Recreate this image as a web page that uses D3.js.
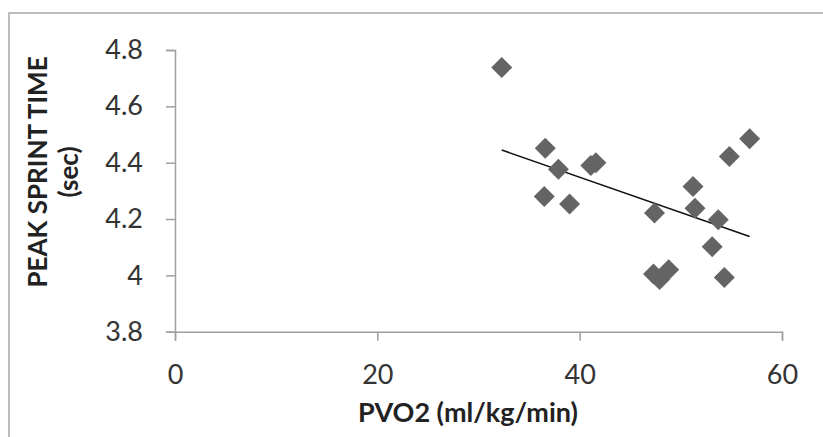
<!DOCTYPE html>
<html>
<head>
<meta charset="utf-8">
<script src="https://cdn.jsdelivr.net/npm/d3@7"></script>
<style>
  body { margin: 0; background: #fff; }
  svg { display: block; }
  .tick text { font-family: Lato, "Open Sans", sans-serif; fill: #333; }
  .title { font-family: Lato, "Open Sans", sans-serif; font-weight: bold; fill: #222; }
</style>
</head>
<body>
<svg width="823" height="437"></svg>
<script>
// PVO2 (ml/kg/min) vs peak sprint time (sec)
const pvo2 = [32.3, 36.6, 37.9, 41.1, 41.6, 36.5, 39.0, 47.4, 51.2, 51.4, 53.7, 53.1, 54.3, 54.8, 56.8, 47.3, 48.8, 47.9];
const sprint = [4.738, 4.451, 4.377, 4.39, 4.40, 4.28, 4.253, 4.221, 4.315, 4.238, 4.197, 4.102, 3.992, 4.422, 4.485, 4.005, 4.02, 3.985];
const xTicks = [0, 20, 40, 60];
const yTicks = [3.8, 4.0, 4.2, 4.4, 4.6, 4.8];

const svg = d3.select('svg');

// chart frame
svg.append('rect')
  .attr('x', 9).attr('y', 13)
  .attr('width', 830).attr('height', 440)
  .attr('fill', 'none')
  .attr('stroke', '#a6a6a6')
  .attr('stroke-width', 1.5);

const x = d3.scaleLinear().domain([0, 60]).range([175, 782]);
const y = d3.scaleLinear().domain([3.8, 4.8]).range([331.7, 50]);

const xAxis = svg.append('g')
  .attr('transform', `translate(0,${y(3.8)})`)
  .call(d3.axisBottom(x).tickValues(xTicks).tickFormat(d3.format('d')).tickSize(9).tickPadding(24));

const yAxis = svg.append('g')
  .attr('transform', `translate(${x(0)},0)`)
  .call(d3.axisLeft(y).tickValues(yTicks).tickFormat(d => d === 4 ? '4' : d3.format('.1f')(d)).tickSize(9).tickPadding(23));

[xAxis, yAxis].forEach(g => {
  g.select('.domain').attr('stroke', '#a0a0a0').attr('stroke-width', 1.5);
  g.selectAll('.tick line').attr('stroke', '#a0a0a0').attr('stroke-width', 1.5);
  g.selectAll('.tick text').attr('font-size', 27);
});
xAxis.selectAll('.tick text').attr('dy', '0.71em');

// least squares trendline over the data range
const mx = d3.mean(pvo2), my = d3.mean(sprint);
const slope = d3.sum(pvo2, (v, i) => (v - mx) * (sprint[i] - my)) / d3.sum(pvo2, v => (v - mx) * (v - mx));
const icpt = my - slope * mx;
const [x0, x1] = d3.extent(pvo2);

svg.append('line')
  .attr('x1', x(x0)).attr('y1', y(icpt + slope * x0))
  .attr('x2', x(x1)).attr('y2', y(icpt + slope * x1))
  .attr('stroke', '#111')
  .attr('stroke-width', 1.6);

// diamond markers
const r = 10.5;
svg.append('g')
  .selectAll('path')
  .data(pvo2.map((v, i) => [v, sprint[i]]))
  .join('path')
  .attr('d', d => `M${x(d[0])},${y(d[1]) - r}L${x(d[0]) + r},${y(d[1])}L${x(d[0])},${y(d[1]) + r}L${x(d[0]) - r},${y(d[1])}Z`)
  .attr('fill', '#646464');

// axis titles
svg.append('text')
  .attr('class', 'title')
  .attr('x', 468).attr('y', 422)
  .attr('text-anchor', 'middle')
  .attr('font-size', 27)
  .text('PVO2 (ml/kg/min)');

const yt = svg.append('text')
  .attr('class', 'title')
  .attr('transform', 'translate(47,172) rotate(-90)')
  .attr('text-anchor', 'middle')
  .attr('font-size', 26);
yt.append('tspan').attr('x', 0).attr('y', 0).text('PEAK SPRINT TIME');
yt.append('tspan').attr('x', 0).attr('y', 31).text('(sec)');
</script>
</body>
</html>
